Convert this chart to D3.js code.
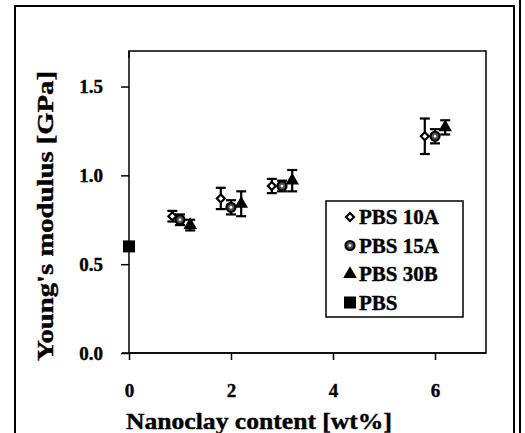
<!DOCTYPE html>
<html>
<head>
<meta charset="utf-8">
<script src="https://cdn.jsdelivr.net/npm/d3@7"></script>
<style>
  body { margin: 0; background: #fff; }
  text { font-family: "Liberation Serif", "Times New Roman", serif; font-weight: bold; fill: #000; stroke: #000; stroke-width: 0.4px; }
</style>
</head>
<body>
<svg id="chart" width="525" height="433"></svg>
<script>
// series values
const seriesNames = ["PBS 10A", "PBS 15A", "PBS 30B", "PBS"];
const x10A = [0.85, 1.8, 2.8, 5.8];
const y10A = [0.77, 0.87, 0.94, 1.22];
const e10A = [0.03, 0.06, 0.04, 0.10];
const x15A = [1.0, 2.0, 3.0, 6.0];
const y15A = [0.75, 0.82, 0.94, 1.22];
const e15A = [0.03, 0.04, 0.03, 0.04];
const x30B = [1.2, 2.2, 3.2, 6.2];
const y30B = [0.72, 0.84, 0.97, 1.27];
const e30B = [0.03, 0.07, 0.06, 0.04];
const xPBS = [0];
const yPBS = [0.6];
const ePBS = [0];
const xTicks = [0, 2, 4, 6];
const yTicks = [0, 0.5, 1.0, 1.5];

const margin = { top: 51, right: 39, bottom: 80, left: 129 };
const width = 525, height = 433;
const w = width - margin.left - margin.right;
const h = height - margin.top - margin.bottom;

const x = d3.scaleLinear().domain([0, 7]).range([0, w]);
const y = d3.scaleLinear().domain([0, 1.7]).range([h, 0]);

const svg = d3.select("#chart");

// outer frame
svg.append("path")
  .attr("d", "M15,440 V6 H514 V440")
  .attr("fill", "none").attr("stroke", "#000").attr("stroke-width", 2);
svg.append("line")
  .attr("x1", 520).attr("x2", 520).attr("y1", 0).attr("y2", 440)
  .attr("stroke", "#000").attr("stroke-width", 2);

const g = svg.append("g").attr("transform", `translate(${margin.left},${margin.top})`);

// plot frame
g.append("rect")
  .attr("width", w).attr("height", h)
  .attr("fill", "none").attr("stroke", "#000").attr("stroke-width", 1.5);

const xAxis = g.append("g")
  .attr("transform", `translate(0,${h})`)
  .call(d3.axisBottom(x).tickValues(xTicks).tickFormat(d3.format("d")).tickSize(7).tickPadding(24));
const yAxis = g.append("g")
  .call(d3.axisLeft(y).tickValues(yTicks).tickFormat(d3.format(".1f")).tickSize(8).tickPadding(18));
[xAxis, yAxis].forEach(a => {
  a.select(".domain").attr("stroke-width", 1.5);
  a.selectAll(".tick line").attr("stroke-width", 1.5);
  a.selectAll("text").attr("font-size", 19).attr("font-family", null).attr("fill", "#000");
});
xAxis.select(".domain").attr("d", `M-7,0H${w}`);
yAxis.select(".domain").attr("d", `M0,7V0`);

// axis titles
svg.append("text")
  .attr("x", 259).attr("y", 429)
  .attr("text-anchor", "middle").attr("font-size", 23)
  .attr("textLength", 266).attr("lengthAdjust", "spacingAndGlyphs")
  .text("Nanoclay content [wt%]");
svg.append("text")
  .attr("transform", "translate(53,216) rotate(-90)")
  .attr("text-anchor", "middle").attr("font-size", 23)
  .attr("textLength", 290).attr("lengthAdjust", "spacingAndGlyphs")
  .text("Young's modulus [GPa]");

const series = [
  { name: seriesNames[0], xs: x10A, ys: y10A, es: e10A, shape: "diamond" },
  { name: seriesNames[1], xs: x15A, ys: y15A, es: e15A, shape: "circle" },
  { name: seriesNames[2], xs: x30B, ys: y30B, es: e30B, shape: "triangle" },
  { name: seriesNames[3], xs: xPBS, ys: yPBS, es: ePBS, shape: "square" },
];

function drawMarker(sel, shape) {
  if (shape === "diamond") {
    sel.append("path").attr("d", d3.symbol(d3.symbolDiamond2, 40)())
      .attr("fill", "#fff").attr("stroke", "#000").attr("stroke-width", 2.2);
  } else if (shape === "circle") {
    sel.append("circle").attr("r", 4.5)
      .attr("fill", "#555").attr("stroke", "#000").attr("stroke-width", 2.2);
    sel.append("circle").attr("r", 1.3).attr("fill", "#fff");
  } else if (shape === "triangle") {
    sel.append("path").attr("d", d3.symbol(d3.symbolTriangle, 80)()).attr("fill", "#000");
  } else {
    sel.append("rect").attr("x", -6).attr("y", -6).attr("width", 12).attr("height", 12).attr("fill", "#000");
  }
}

series.forEach(s => {
  const pts = s.xs.map((xv, i) => ({ x: xv, y: s.ys[i], e: s.es[i] }));
  const grp = g.append("g");
  const eb = grp.selectAll("g.err").data(pts.filter(p => p.e > 0)).join("g")
    .attr("class", "err").attr("stroke", "#000").attr("stroke-width", 2.2);
  eb.append("line")
    .attr("x1", d => x(d.x)).attr("x2", d => x(d.x))
    .attr("y1", d => y(d.y - d.e)).attr("y2", d => y(d.y + d.e));
  eb.append("line")
    .attr("x1", d => x(d.x) - 5).attr("x2", d => x(d.x) + 5)
    .attr("y1", d => y(d.y + d.e)).attr("y2", d => y(d.y + d.e));
  eb.append("line")
    .attr("x1", d => x(d.x) - 5).attr("x2", d => x(d.x) + 5)
    .attr("y1", d => y(d.y - d.e)).attr("y2", d => y(d.y - d.e));
  grp.selectAll("g.pt").data(pts).join("g")
    .attr("class", "pt")
    .attr("transform", d => `translate(${x(d.x)},${y(d.y)})`)
    .each(function () { drawMarker(d3.select(this), s.shape); });
});

// legend
const lg = svg.append("g").attr("transform", "translate(326,201)");
lg.append("rect").attr("width", 137).attr("height", 116)
  .attr("fill", "#fff").attr("stroke", "#000").attr("stroke-width", 1.5);
const rows = lg.selectAll("g.row").data(series).join("g")
  .attr("class", "row")
  .attr("transform", (d, i) => `translate(0,${16 + i * 28.5})`);
rows.append("g").attr("transform", "translate(24,0)")
  .each(function (d) { drawMarker(d3.select(this), d.shape); });
rows.append("text").attr("x", 33).attr("y", 7).attr("font-size", 21).text(d => d.name);
</script>
</body>
</html>
